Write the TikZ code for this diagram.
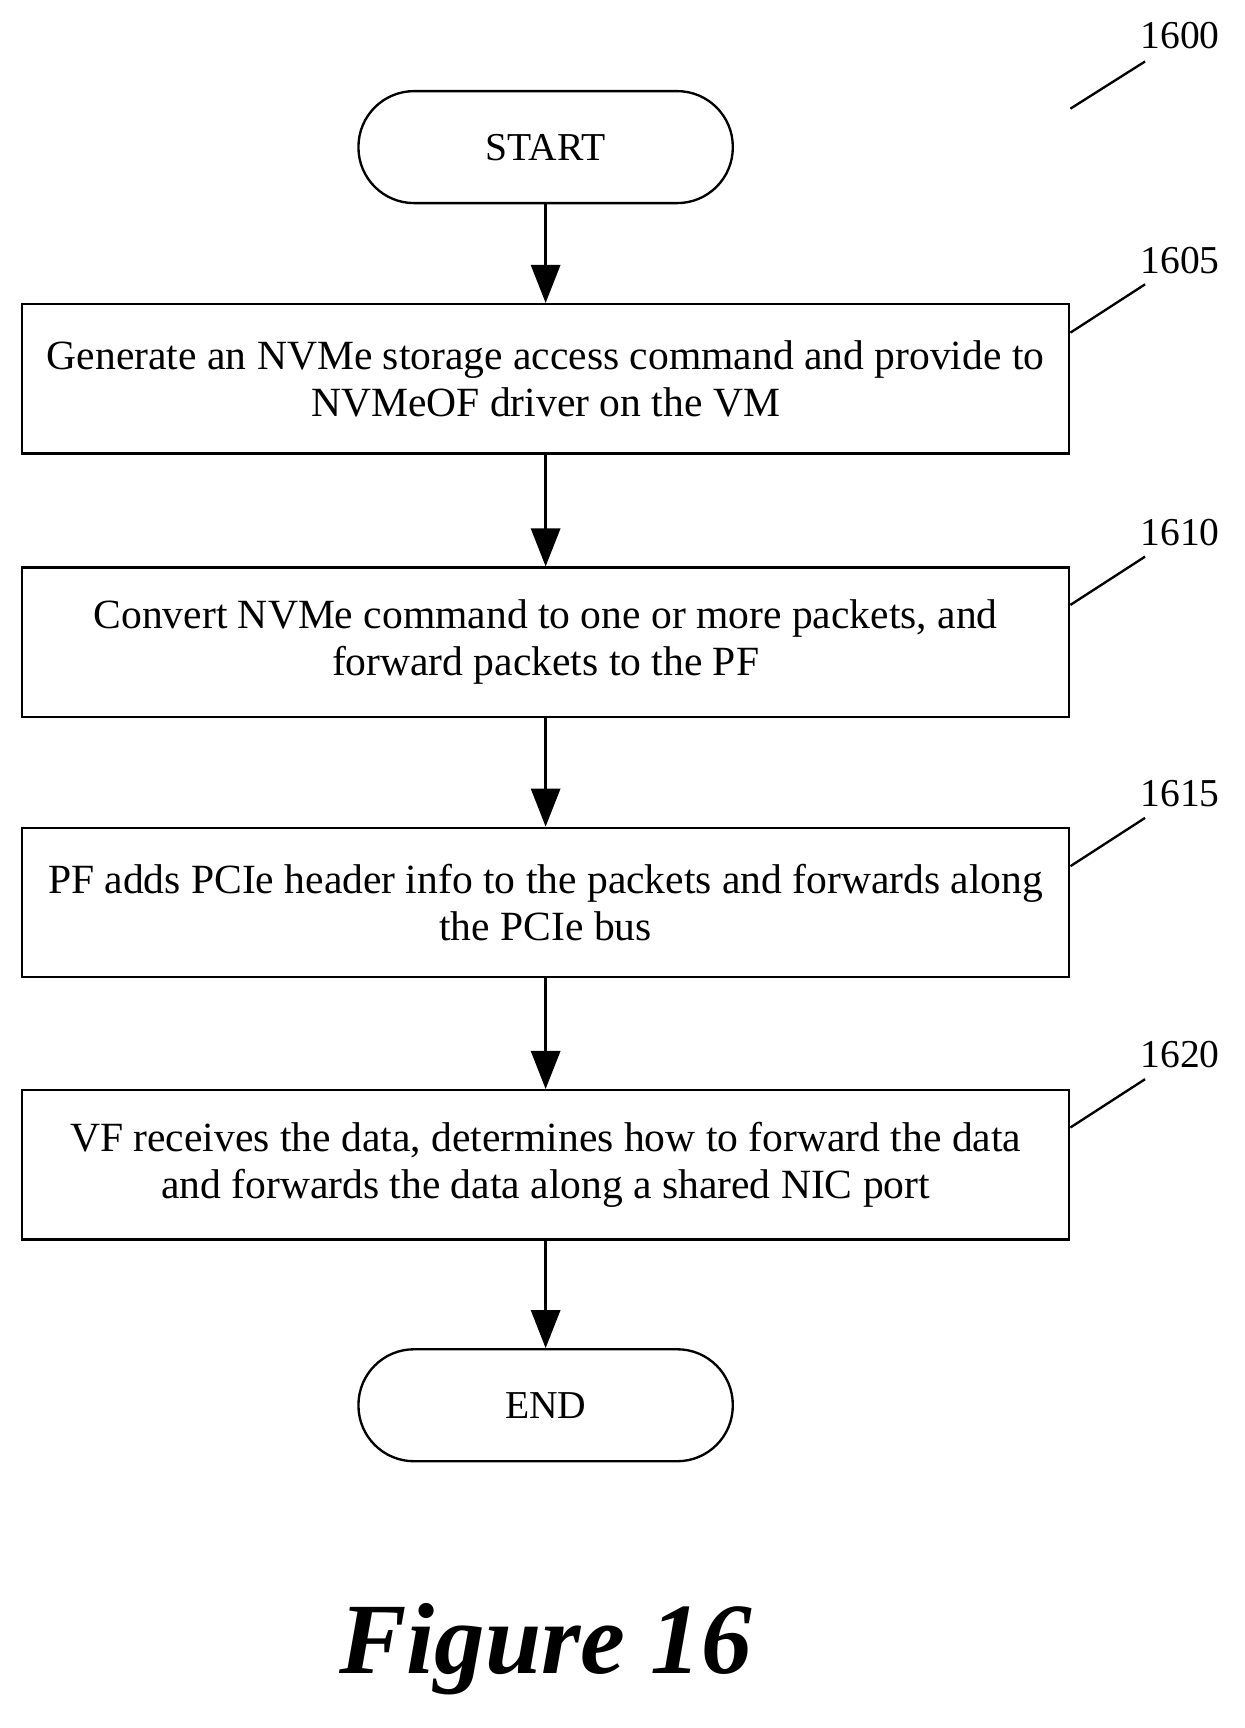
\documentclass[tikz,border=0pt]{standalone}
\usepackage{fontspec}
\setmainfont{Liberation Serif}
\usetikzlibrary{arrows.meta}
\begin{document}
\begin{tikzpicture}[x=0.75pt,y=-0.75pt,
  box/.style={draw,line width=1.6pt,minimum width=954*0.75pt,minimum height=136*0.75pt,align=center,font=\fontsize{28.4}{32}\selectfont,inner sep=0pt},
  term/.style={draw,line width=1.6pt,rounded corners=38pt,minimum width=341*0.75pt,minimum height=102*0.75pt,font=\fontsize{27}{32}\selectfont},
  arr/.style={line width=1.6pt,-{Triangle[length=26pt,width=20pt]}},
  lbl/.style={font=\fontsize{27}{32}\selectfont},
  ld/.style={line width=1.6pt}]
\useasboundingbox (0,0) rectangle (1134,1574);
\node[term] (start) at (497,134) {START};
\node[box] (b1) at (497,345) {Generate an NVMe storage access command and provide to\\NVMeOF driver on the VM};
\node[box] (b2) at (497,585) {Convert NVMe command to one or more packets, and\\forward packets to the PF};
\node[box] (b3) at (497,822) {PF adds PCIe header info to the packets and forwards along\\the PCIe bus};
\node[box] (b4) at (497,1061) {VF receives the data, determines how to forward the data\\and forwards the data along a shared NIC port};
\node[term] (end) at (497,1280) {END};
\draw[arr] (start) -- (b1);
\draw[arr] (b1) -- (b2);
\draw[arr] (b2) -- (b3);
\draw[arr] (b3) -- (b4);
\draw[arr] (b4) -- (end);
\node[lbl] (l0) at (1075,32) {1600};
\coordinate (c0a) at (975,99); \coordinate (c0b) at (1043,56);
\draw[ld] (c0a) -- (c0b);
\foreach \n/\y in {1605/237,1610/485,1615/723,1620/961}{
  \node[lbl] (l\n) at (1075,\y) {\n};
  \coordinate (a\n) at (975,\y+66); \coordinate (e\n) at (1043,\y+22);
  \draw[ld] (a\n) -- (e\n);
}
\node (fig) at (497,1502) {\fontsize{69}{74}\selectfont\bfseries\itshape Figure 16};
\end{tikzpicture}
\end{document}
